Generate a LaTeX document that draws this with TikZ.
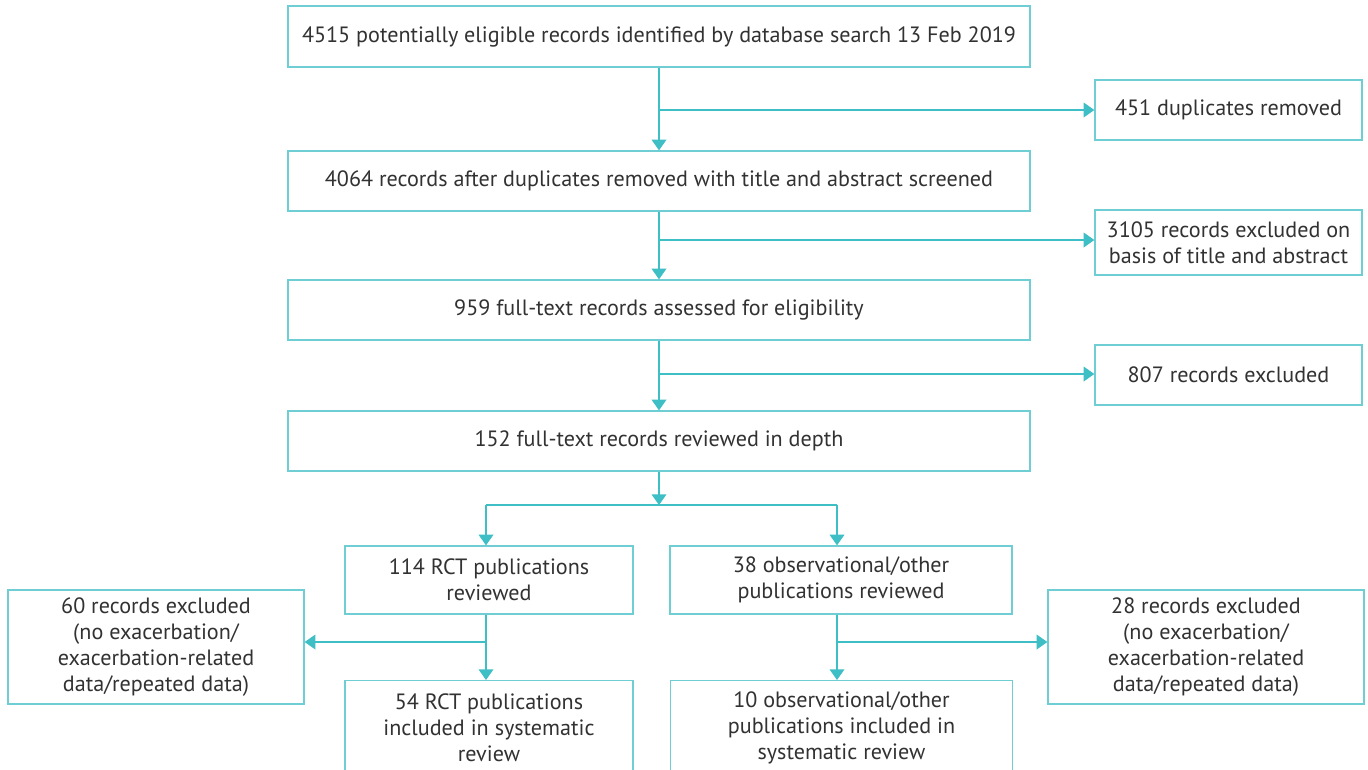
\documentclass[tikz,border=0pt]{standalone}
\usepackage{fontspec}
\setmainfont{PT Sans}
\usetikzlibrary{arrows.meta}
\definecolor{teal}{RGB}{62,190,197}
\definecolor{boxline}{RGB}{110,206,211}
\definecolor{txt}{RGB}{50,50,50}
\begin{document}
\begin{tikzpicture}[x=0.75pt,y=-0.75pt,
  box/.style={draw=boxline,line width=1pt,inner sep=0pt,align=center,text=txt,
    font=\fontsize{16.6pt}{19.5pt}\selectfont},
  wide/.style={box,minimum width=556.5pt,minimum height=45pt},
  side/.style={box,minimum width=200.25pt},
  conn/.style={draw=teal,line width=1pt},
  arr/.style={conn,-{Triangle[width=11pt,length=8pt]}}]
\useasboundingbox (0,0) rectangle (1368,769);
\clip (0,0) rectangle (1368,769);
\fill[white] (0,0) rectangle (1368,769);
\node[wide,minimum height=45.75pt] (b1) at (659,36.5) {4515 potentially eligible records identified by database search 13 Feb 2019};
\node[side,minimum height=45pt] (dup) at (1228.5,110) {451 duplicates removed};
\node[wide] (b2) at (659,181) {4064 records after duplicates removed with title and abstract screened};
\node[side,minimum height=48.75pt] (ex2) at (1228.5,242.5) {3105 records excluded on\\basis of title and abstract};
\node[wide] (b3) at (659,310) {959 full-text records assessed for eligibility};
\node[side,minimum height=45pt] (ex3) at (1228.5,375) {807 records excluded};
\node[wide] (b4) at (659,441) {152 full-text records reviewed in depth};
\node[box,minimum width=216pt,minimum height=51pt] (rct) at (489,580) {114 RCT publications\\reviewed};
\node[box,minimum width=256.5pt,minimum height=51pt] (obs) at (841,580) {38 observational/other\\publications reviewed};
\node[box,minimum width=222pt,minimum height=85.5pt] (exL) at (156,647) {60 records excluded\\(no exacerbation/\\exacerbation-related\\data/repeated data)};
\node[box,minimum width=237pt,minimum height=85.5pt] (exR) at (1206,647) {28 records excluded\\(no exacerbation/\\exacerbation-related\\data/repeated data)};
\node[box,minimum width=216pt,minimum height=70.5pt,anchor=north] (rct2) at (489,680) {54 RCT publications\\included in systematic\\review};
\node[box,minimum width=256.5pt,minimum height=70.5pt,anchor=north] (obs2) at (841.5,680) {10 observational/other\\publications included in\\systematic review};
\coordinate (j1) at (659,110);
\coordinate (j2) at (659,240);
\coordinate (j3) at (659,374);
\coordinate (sp) at (659,505);
\coordinate (spL) at (486,505);
\coordinate (spR) at (837,505);
\coordinate (jL) at (486,642);
\coordinate (jR) at (837,642);
\draw[arr] (b1.south) -- (b2.north);
\draw[arr] (j1) -- (dup.west);
\draw[arr] (b2.south) -- (b3.north);
\draw[arr] (j2) -- (ex2.west |- j2);
\draw[arr] (b3.south) -- (b4.north);
\draw[arr] (j3) -- (ex3.west |- j3);
\draw[arr] (b4.south) -- (sp);
\draw[conn] (spL) -- (spR);
\draw[arr] (spL) -- (spL |- rct.north);
\draw[arr] (spR) -- (spR |- obs.north);
\draw[arr] (spL |- rct.south) -- (spL |- rct2.north);
\draw[arr] (jL) -- (exL.east |- jL);
\draw[arr] (spR |- obs.south) -- (spR |- obs2.north);
\draw[arr] (jR) -- (exR.west |- jR);
\end{tikzpicture}
\end{document}
